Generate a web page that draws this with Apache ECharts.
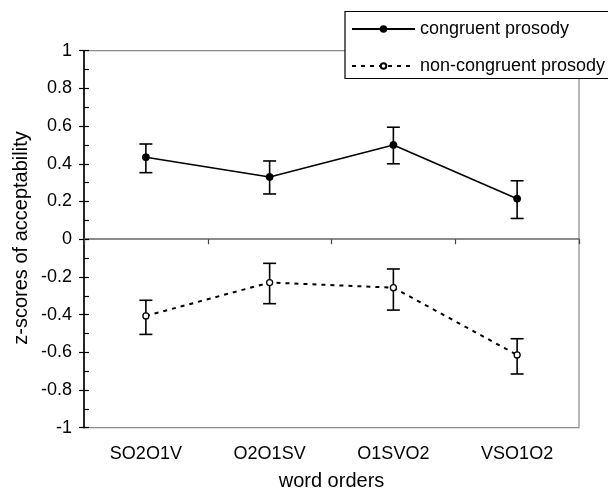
<!DOCTYPE html>
<html>
<head>
<meta charset="utf-8">
<script src="https://cdn.jsdelivr.net/npm/echarts@6/dist/echarts.min.js"></script>
<style>html,body{margin:0;padding:0;background:#fff;}#c{width:608px;height:490px;}</style>
</head>
<body>
<div id="c"></div>
<script>
var categories = ['SO2O1V', 'O2O1SV', 'O1SVO2', 'VSO1O2'];
var congruentMean = [0.435, 0.33, 0.50, 0.215];
var congruentHigh = [0.505, 0.415, 0.594, 0.31];
var congruentLow = [0.353, 0.24, 0.40, 0.11];
var nonMean = [-0.407, -0.23, -0.257, -0.614];
var nonHigh = [-0.324, -0.128, -0.158, -0.528];
var nonLow = [-0.505, -0.342, -0.376, -0.715];
var yTicks = [-1, -0.8, -0.6, -0.4, -0.2, 0, 0.2, 0.4, 0.6, 0.8, 1];

var FONT = 'Liberation Sans, Arial, sans-serif';

function errData(hi, lo) {
  return categories.map(function (c, i) { return [i, hi[i], lo[i]]; });
}
function renderErr(params, api) {
  var top = api.coord([api.value(0), api.value(1)]);
  var bot = api.coord([api.value(0), api.value(2)]);
  var hw = 6.5;
  var st = { stroke: '#000', lineWidth: 1.6 };
  return {
    type: 'group',
    children: [
      { type: 'line', shape: { x1: top[0], y1: top[1], x2: bot[0], y2: bot[1] }, style: st },
      { type: 'line', shape: { x1: top[0] - hw, y1: top[1], x2: top[0] + hw, y2: top[1] }, style: st },
      { type: 'line', shape: { x1: bot[0] - hw, y1: bot[1], x2: bot[0] + hw, y2: bot[1] }, style: st }
    ]
  };
}

var chart = echarts.init(document.getElementById('c'), null, { renderer: 'canvas' });
chart.setOption({
  animation: false,
  backgroundColor: '#fff',
  textStyle: { fontFamily: FONT },
  grid: { left: 84, right: 29, top: 50.7, bottom: 62.3, containLabel: false, outerBoundsMode: 'none',
    show: true, borderColor: '#8a8a8a', borderWidth: 1.2, backgroundColor: 'transparent' },
  legend: {
    left: 346, top: 15, orient: 'vertical', itemWidth: 63, itemHeight: 7, itemGap: 19,
    textStyle: { fontFamily: FONT, fontSize: 18, color: '#000' },
    data: ['congruent prosody', 'non-congruent prosody'],
    z: 20
  },
  graphic: [
    { type: 'rect', z: 10, zlevel: 0, shape: { x: 345, y: 11.5, width: 300, height: 67 }, style: { fill: '#fff', stroke: '#000', lineWidth: 1.2 } },
    { type: 'text', z: 10, x: 21, y: 238, rotation: Math.PI / 2,
      style: { text: 'z-scores of acceptability', fontFamily: FONT, fontSize: 20, fill: '#000', align: 'center', verticalAlign: 'middle' } }
  ],
  xAxis: [
    {
      type: 'category', data: categories, boundaryGap: true,
      axisLine: { onZero: true, lineStyle: { color: '#666', width: 1.6 } },
      axisTick: { show: true, length: 5, lineStyle: { color: '#444', width: 1.2 } },
      axisLabel: { show: false }
    },
    {
      type: 'category', data: categories, boundaryGap: true, position: 'bottom',
      axisLine: { show: false, onZero: false }, axisTick: { show: false },
      axisLabel: { show: true, margin: 17, fontFamily: FONT, fontSize: 18, color: '#000' },
      name: 'word orders', nameLocation: 'middle', nameGap: 44,
      nameTextStyle: { fontFamily: FONT, fontSize: 20, color: '#000' }
    }
  ],
  yAxis: [
    {
      type: 'value', min: -1, max: 1, interval: 0.2,
      axisLine: { show: true, lineStyle: { color: '#000', width: 1.6 } },
      axisTick: { show: true, inside: false, length: 5, lineStyle: { color: '#000', width: 1.2 } },
      splitLine: { show: false },
      axisLabel: {
        margin: 12, fontFamily: FONT, fontSize: 18, color: '#000',
        formatter: function (v) {
          var r = Math.round(v * 10) / 10;
          for (var i = 0; i < yTicks.length; i++) if (Math.abs(yTicks[i] - r) < 1e-6) return String(yTicks[i]);
          return '';
        }
      }
    },
    {
      type: 'value', min: -1, max: 1, interval: 0.2, position: 'left',
      axisLine: { show: false },
      axisTick: { show: true, inside: true, length: 5, lineStyle: { color: '#000', width: 1.2 } },
      minorTick: { show: true, splitNumber: 2, length: 5, lineStyle: { color: '#000', width: 1.2 } },
      splitLine: { show: false },
      axisLabel: { show: false }
    }
  ],
  series: [
    { type: 'custom', name: 'errC', xAxisIndex: 0, yAxisIndex: 0, renderItem: renderErr, data: errData(congruentHigh, congruentLow), z: 2, silent: true },
    { type: 'custom', name: 'errN', xAxisIndex: 0, yAxisIndex: 0, renderItem: renderErr, data: errData(nonHigh, nonLow), z: 2, silent: true },
    {
      type: 'line', name: 'congruent prosody', xAxisIndex: 0, yAxisIndex: 0, data: congruentMean,
      symbol: 'circle', symbolSize: 7, showSymbol: true,
      lineStyle: { color: '#000', width: 1.6, type: 'solid' },
      itemStyle: { color: '#000', borderColor: '#000', borderWidth: 1 },
      z: 5
    },
    {
      type: 'line', name: 'non-congruent prosody', xAxisIndex: 0, yAxisIndex: 0, data: nonMean,
      symbol: 'circle', symbolSize: 6, showSymbol: true,
      lineStyle: { color: '#000', width: 2, type: [4, 5] },
      itemStyle: { color: '#fff', borderColor: '#000', borderWidth: 1.3 },
      z: 5
    }
  ]
});
</script>
</body>
</html>
